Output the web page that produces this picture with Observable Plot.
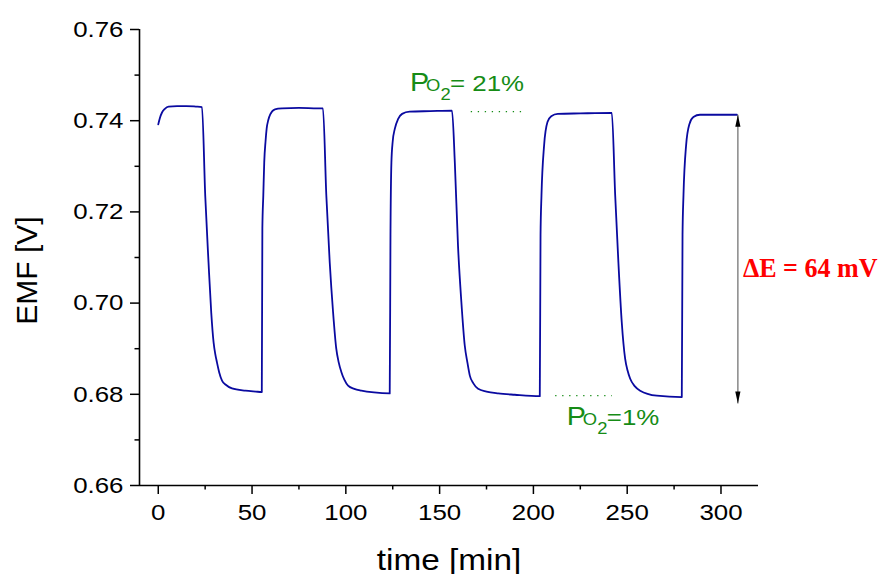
<!DOCTYPE html>
<html><head><meta charset="utf-8">
<script src="https://cdn.jsdelivr.net/npm/d3@7"></script>
<script src="https://cdn.jsdelivr.net/npm/@observablehq/plot@0.6"></script>
<style>html,body{margin:0;padding:0;background:#fff}</style>
</head><body><div id="chart"></div>
<script>
// ---- data ----
const time = [
  0, 0.8, 2, 3.5, 5.5, 10, 15, 20, 23.3,
  25.05, 26.8, 28.25, 29.5, 30.4, 31.3, 32.5, 34, 36, 39.3, 46.4, 52, 55.2,
  55.5, 56.0, 56.5, 57.2, 57.8, 58.7, 59.7, 62.2, 66, 75, 85, 87.8,
  89.6, 91.4, 93.2, 94.9, 96.2, 97.6, 99.2, 101.2, 104.5, 108.3, 115, 123.4,
  123.8, 124.3, 125.0, 126.1, 127.9, 130, 134, 145, 156.6,
  158.1, 159.8, 161.6, 163.4, 164.8, 166.1, 168, 170.5, 175, 181.2, 190.1, 203.4,
  203.8, 204.3, 205.7, 207.5, 209.5, 213, 225, 241.8,
  243.6, 245.3, 247.1, 248.9, 250.2, 251.6, 254, 256.9, 265.8, 279.1,
  279.5, 280.0, 281.4, 283.2, 285.3, 288.8, 300, 308.5
];
const emf = [
  0.7392, 0.7405, 0.7418, 0.7426, 0.7431, 0.7432, 0.7432, 0.7431, 0.7430,
  0.7235, 0.7089, 0.6979, 0.6914, 0.6888, 0.6870, 0.6848, 0.6830, 0.6821, 0.6813, 0.6808, 0.6806, 0.6805,
  0.7164, 0.7236, 0.7309, 0.7355, 0.7383, 0.7402, 0.7414, 0.7425, 0.7427, 0.7428, 0.7427, 0.7427,
  0.7236, 0.7090, 0.6980, 0.6900, 0.6870, 0.6849, 0.6832, 0.6819, 0.6812, 0.6808, 0.6804, 0.6802,
  0.7150, 0.7309, 0.7355, 0.7382, 0.7404, 0.7415, 0.7420, 0.7421, 0.7422,
  0.7309, 0.7126, 0.7002, 0.6907, 0.6870, 0.6841, 0.6824, 0.6812, 0.6806, 0.6802, 0.6799, 0.6796,
  0.7150, 0.7236, 0.7346, 0.7397, 0.7410, 0.7415, 0.7416, 0.7417,
  0.7236, 0.7090, 0.6958, 0.6878, 0.6852, 0.6834, 0.6818, 0.6808, 0.6797, 0.6794,
  0.7150, 0.7236, 0.7346, 0.7393, 0.7408, 0.7413, 0.7413, 0.7413
];
const xTicks = [0, 50, 100, 150, 200, 250, 300];
const xMinorTicks = [25, 75, 125, 175, 225, 275];
const yTicks = [0.66, 0.68, 0.70, 0.72, 0.74, 0.76];
const yMinorTicks = [0.67, 0.69, 0.71, 0.73, 0.75];
const xDomain = [-10, 320];
const yDomain = [0.66, 0.76];
const xTitle = "time [min]";
const yTitle = "EMF [V]";
const levelLines = [
  {t1: 166.6, t2: 196.1, v: 0.7420},
  {t1: 211.6, t2: 241.8, v: 0.6797}
];
const highLabel = {t: 134.2, v: 0.7465, parts: ["P", "O", "2", "= 21%"]};
const lowLabel  = {t: 217.8, v: 0.6732, parts: ["P", "O", "2", "=1%"]};
const deltaArrow = {t: 309, v1: 0.7413, v2: 0.6780};
const deltaLabel = {t: 311.7, v: 0.7057, text: "ΔE = 64 mV"};

// ---- build ----
const data = time.map((t, i) => ({t, v: emf[i]}));
const green = "#168c16";
const sans = "'Liberation Sans', Arial, sans-serif";

function poLabel(lab) {
  const base = {x: "t", y: "v", textAnchor: "start", lineAnchor: "bottom", fill: green, fontFamily: sans};
  const d = [lab];
  return [
    Plot.text(d, {...base, text: () => lab.parts[0], fontSize: 25, dx: 0}),
    Plot.text(d, {...base, text: () => lab.parts[1], fontSize: 16, dx: 16}),
    Plot.text(d, {...base, text: () => lab.parts[2], fontSize: 16, dx: 30.5, dy: 9}),
    Plot.text(d, {...base, text: () => lab.parts[3], fontSize: 22.5, dx: 40})
  ];
}

const plot = Plot.plot({
  width: 885,
  height: 574,
  marginLeft: 139,
  marginRight: 127,
  marginTop: 29,
  marginBottom: 89,
  style: {fontFamily: sans, fontSize: "22.5px", background: "#fff", color: "#000"},
  x: {domain: xDomain},
  y: {domain: yDomain},
  marks: [
    Plot.line(data, {x: "t", y: "v", stroke: "#0a0aa0", strokeWidth: 1.8, curve: "monotone-x"}),
    Plot.link(levelLines, {x1: "t1", x2: "t2", y1: "v", y2: "v", stroke: green, strokeWidth: 1.4, strokeDasharray: "1.3,5.7"}),
    Plot.link([deltaArrow], {x1: "t", x2: "t", y1: "v1", y2: "v2", stroke: "#7f7f7f", strokeWidth: 1.4, className: "de-arrow"}),
    ...poLabel(highLabel),
    ...poLabel(lowLabel),
    Plot.text([deltaLabel], {x: "t", y: "v", text: "text", textAnchor: "start", lineAnchor: "bottom",
      fill: "#ff0000", fontFamily: "'Liberation Serif', 'Times New Roman', serif", fontWeight: "bold", fontSize: 28, className: "narrow"}),
    Plot.axisX(xTicks, {tickSize: 9, tickPadding: 10, fontSize: 22.5, strokeWidth: 1.5, tickFormat: d => String(d), label: null}),
    Plot.axisX(xMinorTicks, {tickSize: 4.5, strokeWidth: 1.5, tickFormat: () => "", label: null}),
    Plot.axisY(yTicks, {tickSize: 9, tickPadding: 7, fontSize: 22.5, strokeWidth: 1.5, tickFormat: d3.format(".2f"), label: null}),
    Plot.axisY(yMinorTicks, {tickSize: 4.5, strokeWidth: 1.5, tickFormat: () => "", label: null}),
    Plot.ruleY([yDomain[0]], {stroke: "#000", strokeWidth: 1.6}),
    Plot.ruleX([xDomain[0]], {stroke: "#000", strokeWidth: 1.6}),
    Plot.text([xTitle], {frameAnchor: "bottom", dy: 84, textAnchor: "middle", lineAnchor: "bottom", fontSize: 29, fill: "#000"}),
    Plot.text([yTitle], {frameAnchor: "left", dx: -103, dy: 13, rotate: -90, textAnchor: "middle", lineAnchor: "bottom", fontSize: 30, fill: "#000"})
  ]
});

// horizontal stretch of text as in the reference rendering
plot.querySelectorAll("text").forEach(t => {
  const tr = t.getAttribute("transform");
  if (!tr || tr.includes("rotate")) return;
  const s = t.closest(".narrow") ? 0.93 : 1.15;
  t.setAttribute("transform", tr + ` scale(${s},1)`);
});

// filled arrowheads for the ΔE arrow
const sel = d3.select(plot);
const defs = sel.insert("defs", ":first-child");
defs.append("marker").attr("id", "ahead").attr("viewBox", "0 -3 12 6").attr("refX", 12).attr("refY", 0)
  .attr("markerWidth", 12).attr("markerHeight", 6).attr("markerUnits", "userSpaceOnUse")
  .attr("orient", "auto-start-reverse")
  .append("path").attr("d", "M0,-2.6L12,0L0,2.6Z").attr("fill", "#000");
sel.selectAll(".de-arrow path, .de-arrow line").attr("marker-start", "url(#ahead)").attr("marker-end", "url(#ahead)");

document.getElementById("chart").appendChild(plot);
</script>
</body></html>
